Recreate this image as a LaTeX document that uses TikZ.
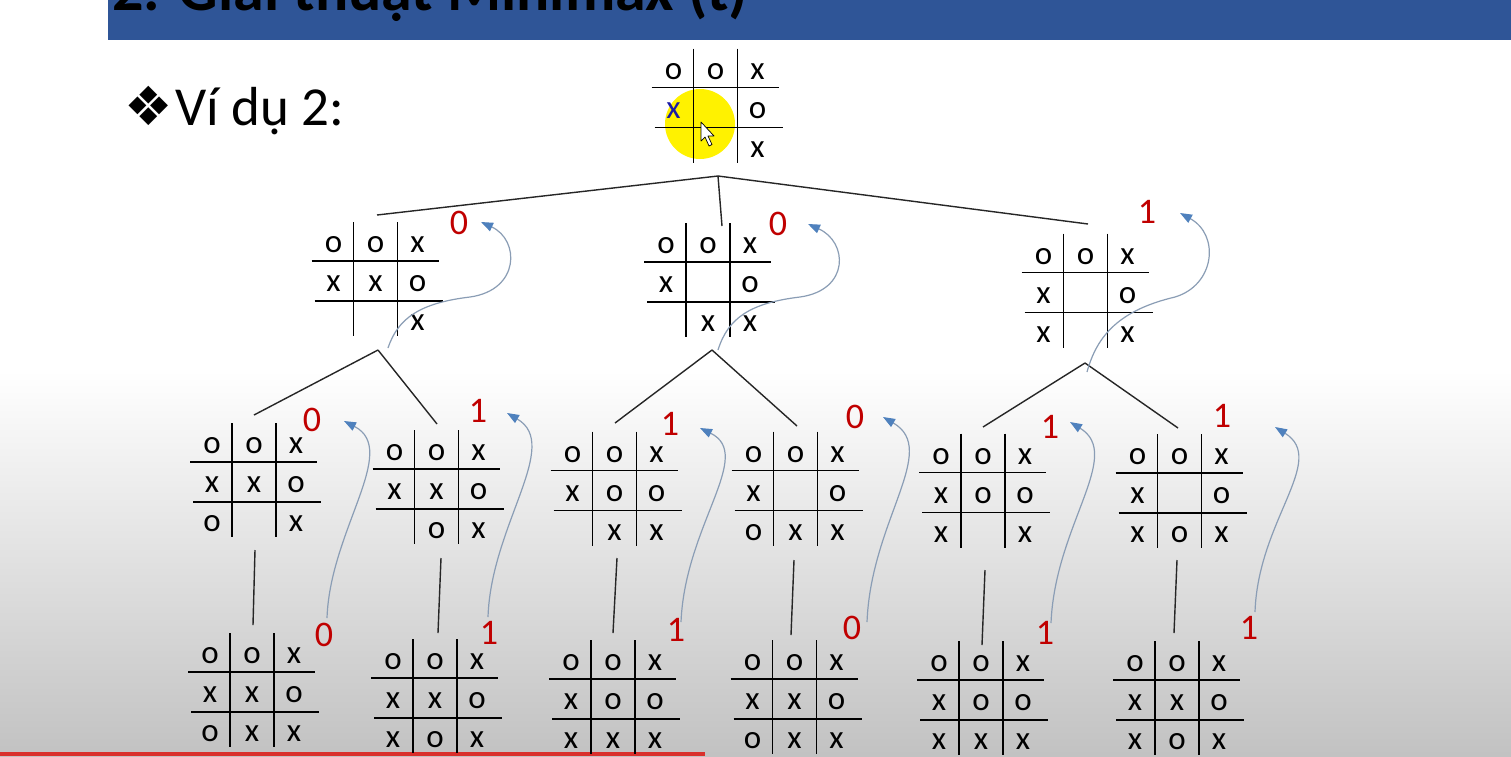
\documentclass[tikz,border=0pt]{standalone}
\usepackage{fontspec}
\setmainfont{Carlito}
\newfontfamily\djv{DejaVu Sans}
\usetikzlibrary{arrows.meta}
\definecolor{banner}{HTML}{2F5597}
\definecolor{valred}{HTML}{C00000}
\definecolor{arrline}{HTML}{8A9DB5}
\definecolor{arrhead}{HTML}{4F81BD}
\definecolor{yel}{HTML}{FFF200}
\definecolor{bluex}{HTML}{1A1AA6}
\definecolor{redline}{HTML}{D9302C}
\tikzset{
 gridline/.style={line width=1.9pt, black},
 edge/.style={line width=1.4pt, black!85},
 cell/.style={inner sep=0pt, font=\fontsize{33}{38}\selectfont},
 val/.style={inner sep=0pt, text=valred, font=\fontsize{36}{40}\selectfont},
 backarrow/.style={line width=1.2pt, arrline, -{Triangle[length=12pt,width=9pt,color=arrhead,fill=arrhead]}},
}
\newcommand\tttboard[6]{%
 \begin{scope}[shift={(#2,#3)}]
  \draw[gridline] (-22,-59) -- (-22,55);
  \draw[gridline] (22,-59) -- (22,55);
  \draw[gridline] (-64,-20) -- (63,-20);
  \draw[gridline] (-61,20) -- (67,20);
  \foreach \t [count=\i] in {#4} \node[cell] (#1-1-\i) at ({(\i-2)*42},-36) {\t};
  \foreach \t [count=\i] in {#5} \node[cell] (#1-2-\i) at ({(\i-2)*42},3) {\t};
  \foreach \t [count=\i] in {#6} \node[cell] (#1-3-\i) at ({(\i-2)*42},42) {\t};
 \end{scope}}
\begin{document}
\begin{tikzpicture}[x=1pt,y=-1pt]
\useasboundingbox (0,0) rectangle (1511,756);
\fill[white] (0,0) rectangle (1511,756);
\shade[top color=white,bottom color=black!24] (0,370) rectangle (1511,756);
% banner
\fill[banner] (108,0) rectangle (1511,40);
\begin{scope}
 \clip (108,0) rectangle (1511,40);
 \node[anchor=base west, inner sep=0pt] (title) at (112,10) {\fontsize{62}{66}\selectfont\bfseries 2. Giải thuật Minimax (t)};
\end{scope}
\fill[redline] (0,752) rectangle (705,756);
% heading
\node[inner sep=0pt] (bullet) at (149,106) {\djv\fontsize{54}{60}\selectfont ❖};
\node[anchor=base west, inner sep=0pt] (vidu) at (175,125) {\fontsize{55}{60}\selectfont Ví dụ 2:};
% highlight
\fill[yel] (700,124) circle (35pt);
% boards
\tttboard{top}{715.5}{107.5}{o,o,x}{\textcolor{bluex}{x},{},o}{{},{},x}
\tttboard{L}{375.5}{281}{o,o,x}{x,x,o}{{},{},x}
\tttboard{M}{708}{282}{o,o,x}{x,{},o}{{},x,x}
\tttboard{R}{1085.5}{292.5}{o,o,x}{x,{},o}{x,{},x}
\tttboard{a}{254}{482}{o,o,x}{x,x,o}{o,{},x}
\tttboard{b}{436.5}{489}{o,o,x}{x,x,o}{{},o,x}
\tttboard{c}{614.5}{490.5}{o,o,x}{x,o,o}{{},x,x}
\tttboard{d}{795.5}{490.5}{o,o,x}{x,{},o}{o,x,x}
\tttboard{e}{983}{492.5}{o,o,x}{x,o,o}{x,{},x}
\tttboard{f}{1179.5}{493}{o,o,x}{x,{},o}{x,o,x}
\tttboard{aa}{252}{692}{o,o,x}{x,x,o}{o,x,x}
\tttboard{bb}{435}{698}{o,o,x}{x,x,o}{x,o,x}
\tttboard{cc}{613}{699}{o,o,x}{x,o,o}{x,x,x}
\tttboard{dd}{794.5}{699}{o,o,x}{x,x,o}{o,x,x}
\tttboard{ee}{981}{700}{o,o,x}{x,o,o}{x,x,x}
\tttboard{ff}{1177}{700}{o,o,x}{x,x,o}{x,o,x}
% cursor
\filldraw[fill=white, draw=black, line width=0.7pt, line join=round]
 (701,122) -- (701,141) -- (705,137) -- (709,146) -- (712,144.5) -- (708,136) -- (714,136) -- cycle;
% connector coordinates
\coordinate (top-b) at (718,176);
\coordinate (L-t) at (377,215);
\coordinate (M-t) at (722,226);
\coordinate (R-t) at (1088,224);
\coordinate (L-b) at (378,350);
\coordinate (M-b) at (712,350);
\coordinate (R-b) at (1085,363);
\coordinate (a-t) at (254,415);
\coordinate (b-t) at (437,424);
\coordinate (c-t) at (615,423);
\coordinate (d-t) at (797,426);
\coordinate (e-t) at (983,427);
\coordinate (f-t) at (1178,428);
\coordinate (a-b) at (255,550);
\coordinate (b-b) at (441,558);
\coordinate (c-b) at (617,558);
\coordinate (d-b) at (794,560);
\coordinate (e-b) at (985,570);
\coordinate (f-b) at (1177,560);
\coordinate (aa-t) at (253,625);
\coordinate (bb-t) at (438,633);
\coordinate (cc-t) at (613,633);
\coordinate (dd-t) at (791,635);
\coordinate (ee-t) at (982,645);
\coordinate (ff-t) at (1174,633);
\draw[edge] (top-b) -- (L-t);
\draw[edge] (top-b) -- (M-t);
\draw[edge] (top-b) -- (R-t);
\draw[edge] (L-b) -- (a-t);
\draw[edge] (L-b) -- (b-t);
\draw[edge] (M-b) -- (c-t);
\draw[edge] (M-b) -- (d-t);
\draw[edge] (R-b) -- (e-t);
\draw[edge] (R-b) -- (f-t);
\draw[edge] (a-b) -- (aa-t);
\draw[edge] (b-b) -- (bb-t);
\draw[edge] (c-b) -- (cc-t);
\draw[edge] (d-b) -- (dd-t);
\draw[edge] (e-b) -- (ee-t);
\draw[edge] (f-b) -- (ff-t);
% values
\node[val] (vL) at (459,223) {0};
\node[val] (vM) at (778,224) {0};
\node[val] (vR) at (1147,212) {1};
\node[val] (va) at (312,420) {0};
\node[val] (vb) at (478,411) {1};
\node[val] (vc) at (670,424) {1};
\node[val] (vd) at (855,417) {0};
\node[val] (ve) at (1050,427) {1};
\node[val] (vf) at (1222,416) {1};
\node[val] (vaa) at (324,635) {0};
\node[val] (vbb) at (489,633) {1};
\node[val] (vcc) at (676,630) {1};
\node[val] (vdd) at (852,628) {0};
\node[val] (vee) at (1045,633) {1};
\node[val] (vff) at (1249,628) {1};
% back-up arrows
\coordinate (tL) at (481,222);
\coordinate (tM) at (808,224);
\coordinate (tR) at (1180,213);
\coordinate (ta) at (344,421);
\coordinate (tb) at (507,413);
\coordinate (tc) at (700,428);
\coordinate (td) at (883,417);
\coordinate (te) at (1070,422);
\coordinate (tf) at (1275,427);
\coordinate (sL) at (388,348);
\coordinate (sM) at (718,350);
\coordinate (sR) at (1087,372);
\coordinate (sa) at (327,618);
\coordinate (sb) at (488,617);
\coordinate (sc) at (681,622);
\coordinate (sd) at (867,622);
\coordinate (se) at (1051,623);
\coordinate (sf) at (1255,612);
\draw[backarrow] (sL) .. controls (398,318) and (420,303) .. (470,297) .. controls (520,290) and (520,240) .. (tL);
\draw[backarrow] (sM) .. controls (728,318) and (750,303) .. (800,297) .. controls (850,290) and (848,242) .. (tM);
\draw[backarrow] (sR) .. controls (1097,335) and (1120,310) .. (1175,297) .. controls (1215,285) and (1220,235) .. (tR);
\draw[backarrow] (sa) .. controls (330,530) and (400,450) .. (ta);
\draw[backarrow] (sb) .. controls (491,525) and (562,445) .. (tb);
\draw[backarrow] (sc) .. controls (685,525) and (755,455) .. (tc);
\draw[backarrow] (sd) .. controls (871,520) and (940,450) .. (td);
\draw[backarrow] (se) .. controls (1055,525) and (1124,455) .. (te);
\draw[backarrow] (sf) .. controls (1258,520) and (1328,460) .. (tf);
\end{tikzpicture}
\end{document}
